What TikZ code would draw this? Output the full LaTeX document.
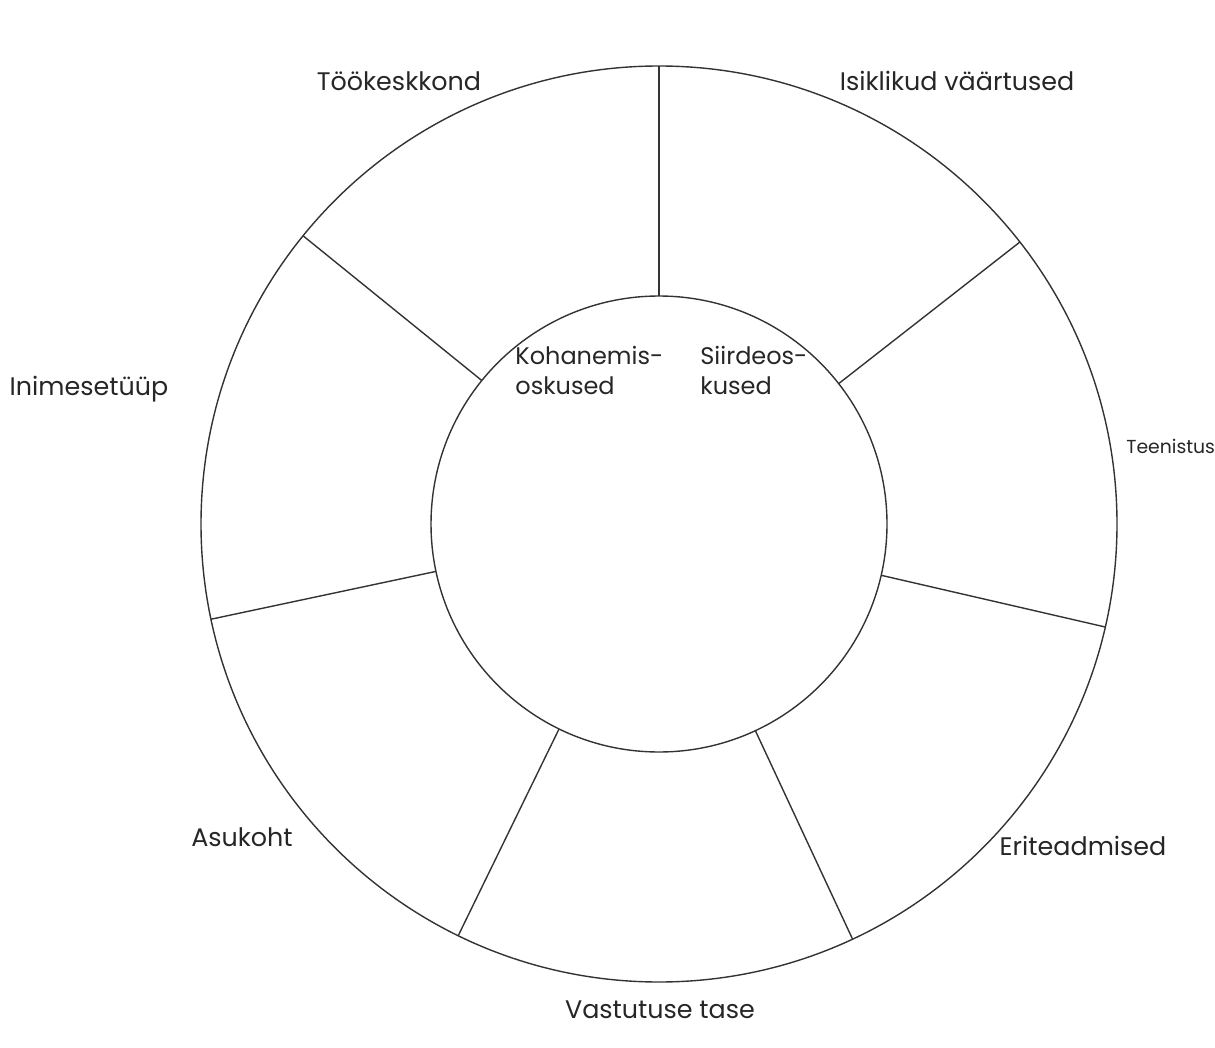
\documentclass[tikz,border=0pt]{standalone}
\usepackage{fontspec}
\setmainfont{Poppins}
\tikzset{
  ring/.style={circle, draw=black!80, line width=0.7pt, inner sep=0pt, outer sep=0pt},
  spoke/.style={draw=black!80, line width=0.7pt},
  outerlabel/.style={font=\fontsize{12.7}{15}\selectfont, text=black!85, inner sep=0pt, anchor=base},
  innerlabel/.style={font=\fontsize{12}{15}\selectfont, text=black!85, inner sep=0pt, align=left, anchor=north west}
}
\begin{document}
\begin{tikzpicture}[x=0.5pt, y=-0.5pt]
  \useasboundingbox (0,0) rectangle (1215,1048);
  \node (outer) [ring, minimum size=458pt] at (659,524) {};
  \node (inner) [ring, minimum size=228pt] at (659,524) {};

  % seven sectors
  \foreach \a in {90, 141.43, 192.86, 244.29, 295.71, 347.14, 38.57}
    \draw [spoke] (inner.\a) -- (outer.\a);

  % inner labels
  \node (kohanemis) [innerlabel] at (515,346) {Kohanemis-\\oskused};
  \node (siirdeos) [innerlabel] at (700,346) {Siirdeos-\\kused};

  % outer labels
  \node (tookeskkond) [outerlabel] at (399,91) {Töökeskkond};
  \node (vaartused) [outerlabel] at (957,91) {Isiklikud väärtused};
  \node (teenistus) [outerlabel, font=\fontsize{9.4}{11}\selectfont, anchor=base west] at (1126,453) {Teenistus};
  \node (eriteadmised) [outerlabel] at (1083,855) {Eriteadmised};
  \node (vastutus) [outerlabel] at (660,1018) {Vastutuse tase};
  \node (asukoht) [outerlabel] at (242,846) {Asukoht};
  \node (inimesetyyp) [outerlabel] at (89,395) {Inimesetüüp};
\end{tikzpicture}
\end{document}
